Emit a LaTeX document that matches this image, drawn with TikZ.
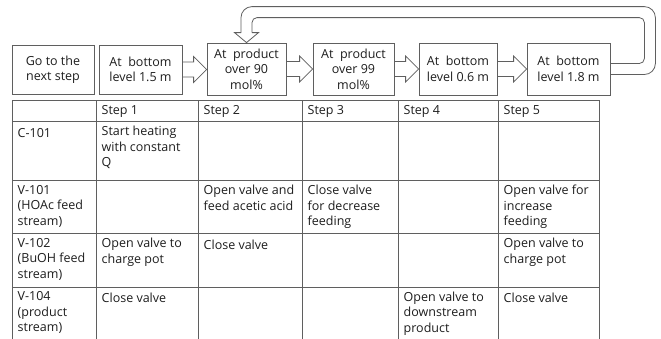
\documentclass[tikz,border=0pt]{standalone}
\usepackage{fontspec}
\setmainfont{Open Sans}
\usetikzlibrary{calc}
\definecolor{lc}{HTML}{5F5F5F}
\definecolor{tc}{HTML}{1E1E1E}
\begin{document}
\begin{tikzpicture}[x=1pt,y=-1pt,
  every node/.style={font=\fontsize{12.5}{15.5}\selectfont, text=tc},
  box/.style={draw=lc, line width=0.8pt, inner sep=0pt, align=center},
  conn/.style={draw=lc, line width=0.8pt, line join=miter},
  cell/.style={anchor=north west, inner sep=0pt, align=left, execute at begin node={\strut}},
  grid/.style={draw=lc, line width=0.8pt}]
\useasboundingbox (0,0) rectangle (661,338);
\clip (0,0) rectangle (661,338);
\fill[white] (0,0) rectangle (661,338);
% boxes
\node[box, minimum width=82pt, minimum height=49pt] (b1) at (53,69.5) {Go to the\\next step};
\node[box, minimum width=83pt, minimum height=49pt] (b2) at (140.5,69.5) {At~~bottom\\level 1.5 m};
\node[box, minimum width=79pt, minimum height=52pt] (b3) at (246.5,69) {At~~product\\over 90\\mol\%};
\node[box, minimum width=81pt, minimum height=52pt] (b4) at (353.5,69) {At~~product\\over 99\\mol\%};
\node[box, minimum width=78pt, minimum height=52pt] (b5) at (458,69) {At~~bottom\\level 0.6 m};
\node[box, minimum width=83pt, minimum height=52pt] (b6) at (568.5,69) {At~~bottom\\level 1.8 m};
% block arrows
\foreach \a/\b in {b2/b3, b3/b4, b4/b5, b5/b6}{
  \draw[conn] let \p1=(\a.east), \p2=(\b.west) in
    (\x1,\y1+7.5pt) -- (\x2-13pt,\y1+7.5pt) -- (\x2-13pt,\y1+13pt) -- (\x2,\y1)
    -- (\x2-13pt,\y1-13pt) -- (\x2-13pt,\y1-7.5pt) -- (\x1,\y1-7.5pt);
}
% return arrow
\draw[conn, rounded corners=11pt] let \p1=(b6.east), \p2=(b3.north) in
  (\x1,\y1-5.5pt) -- (\x1+45pt,\y1-5.5pt) -- (\x1+45pt,\y2+36pt) -- (\x2-5.5pt,\y2+36pt) -- (\x2-5.5pt,\y2+10pt);
\draw[conn] let \p2=(b3.north) in
  (\x2-5.5pt,\y2+10pt) -- (\x2-12pt,\y2+10pt) -- (\x2,\y2) -- (\x2+12pt,\y2+10pt) -- (\x2+5.5pt,\y2+10pt);
\draw[conn, rounded corners=5pt] let \p1=(b6.east), \p2=(b3.north) in
  (\x2+5.5pt,\y2+10pt) -- (\x2+5.5pt,\y2+25pt) -- (\x1+34pt,\y2+25pt) -- (\x1+34pt,\y1+5.5pt) -- (\x1,\y1+5.5pt);
% table grid
\foreach \y in {100,121,180,233,287} \draw[grid] (12,\y) -- (599,\y);
\foreach \x in {12,96,198,302,398,498,599} \draw[grid] (\x,100) -- (\x,340);
% header (baseline 114.5)
\node[cell] (h1) at (101.5,103.65) {Step 1};
\node[cell] (h2) at (203.5,103.65) {Step 2};
\node[cell] (h3) at (307.5,103.65) {Step 3};
\node[cell] (h4) at (403.5,103.65) {Step 4};
\node[cell] (h5) at (503.5,103.65) {Step 5};
% row C-101 (baseline 137)
\node[cell] (r1) at (17.5,126.15) {C-101};
\node[cell] (c11) at (101.5,126.15) {Start heating\\with constant\\Q};
% row V-101 (baseline 196)
\node[cell] (r2) at (17.5,185.15) {V-101\\(HOAc feed\\stream)};
\node[cell] (c22) at (203.5,185.15) {Open valve and\\feed acetic acid};
\node[cell] (c23) at (307.5,185.15) {Close valve\\for decrease\\feeding};
\node[cell] (c25) at (503.5,185.15) {Open valve for\\increase\\feeding};
% row V-102 (baseline 249)
\node[cell] (r3) at (17.5,238.15) {V-102\\(BuOH feed\\stream)};
\node[cell] (c31) at (101.5,238.15) {Open valve to\\charge pot};
\node[cell] (c32) at (203.5,238.15) {Close valve};
\node[cell] (c35) at (503.5,238.15) {Open valve to\\charge pot};
% row V-104 (baseline 302.5)
\node[cell] (r4) at (17.5,291.65) {V-104\\(product\\stream)};
\node[cell] (c41) at (101.5,291.65) {Close valve};
\node[cell] (c44) at (403.5,291.65) {Open valve to\\downstream\\product};
\node[cell] (c45) at (503.5,291.65) {Close valve};
\end{tikzpicture}
\end{document}
